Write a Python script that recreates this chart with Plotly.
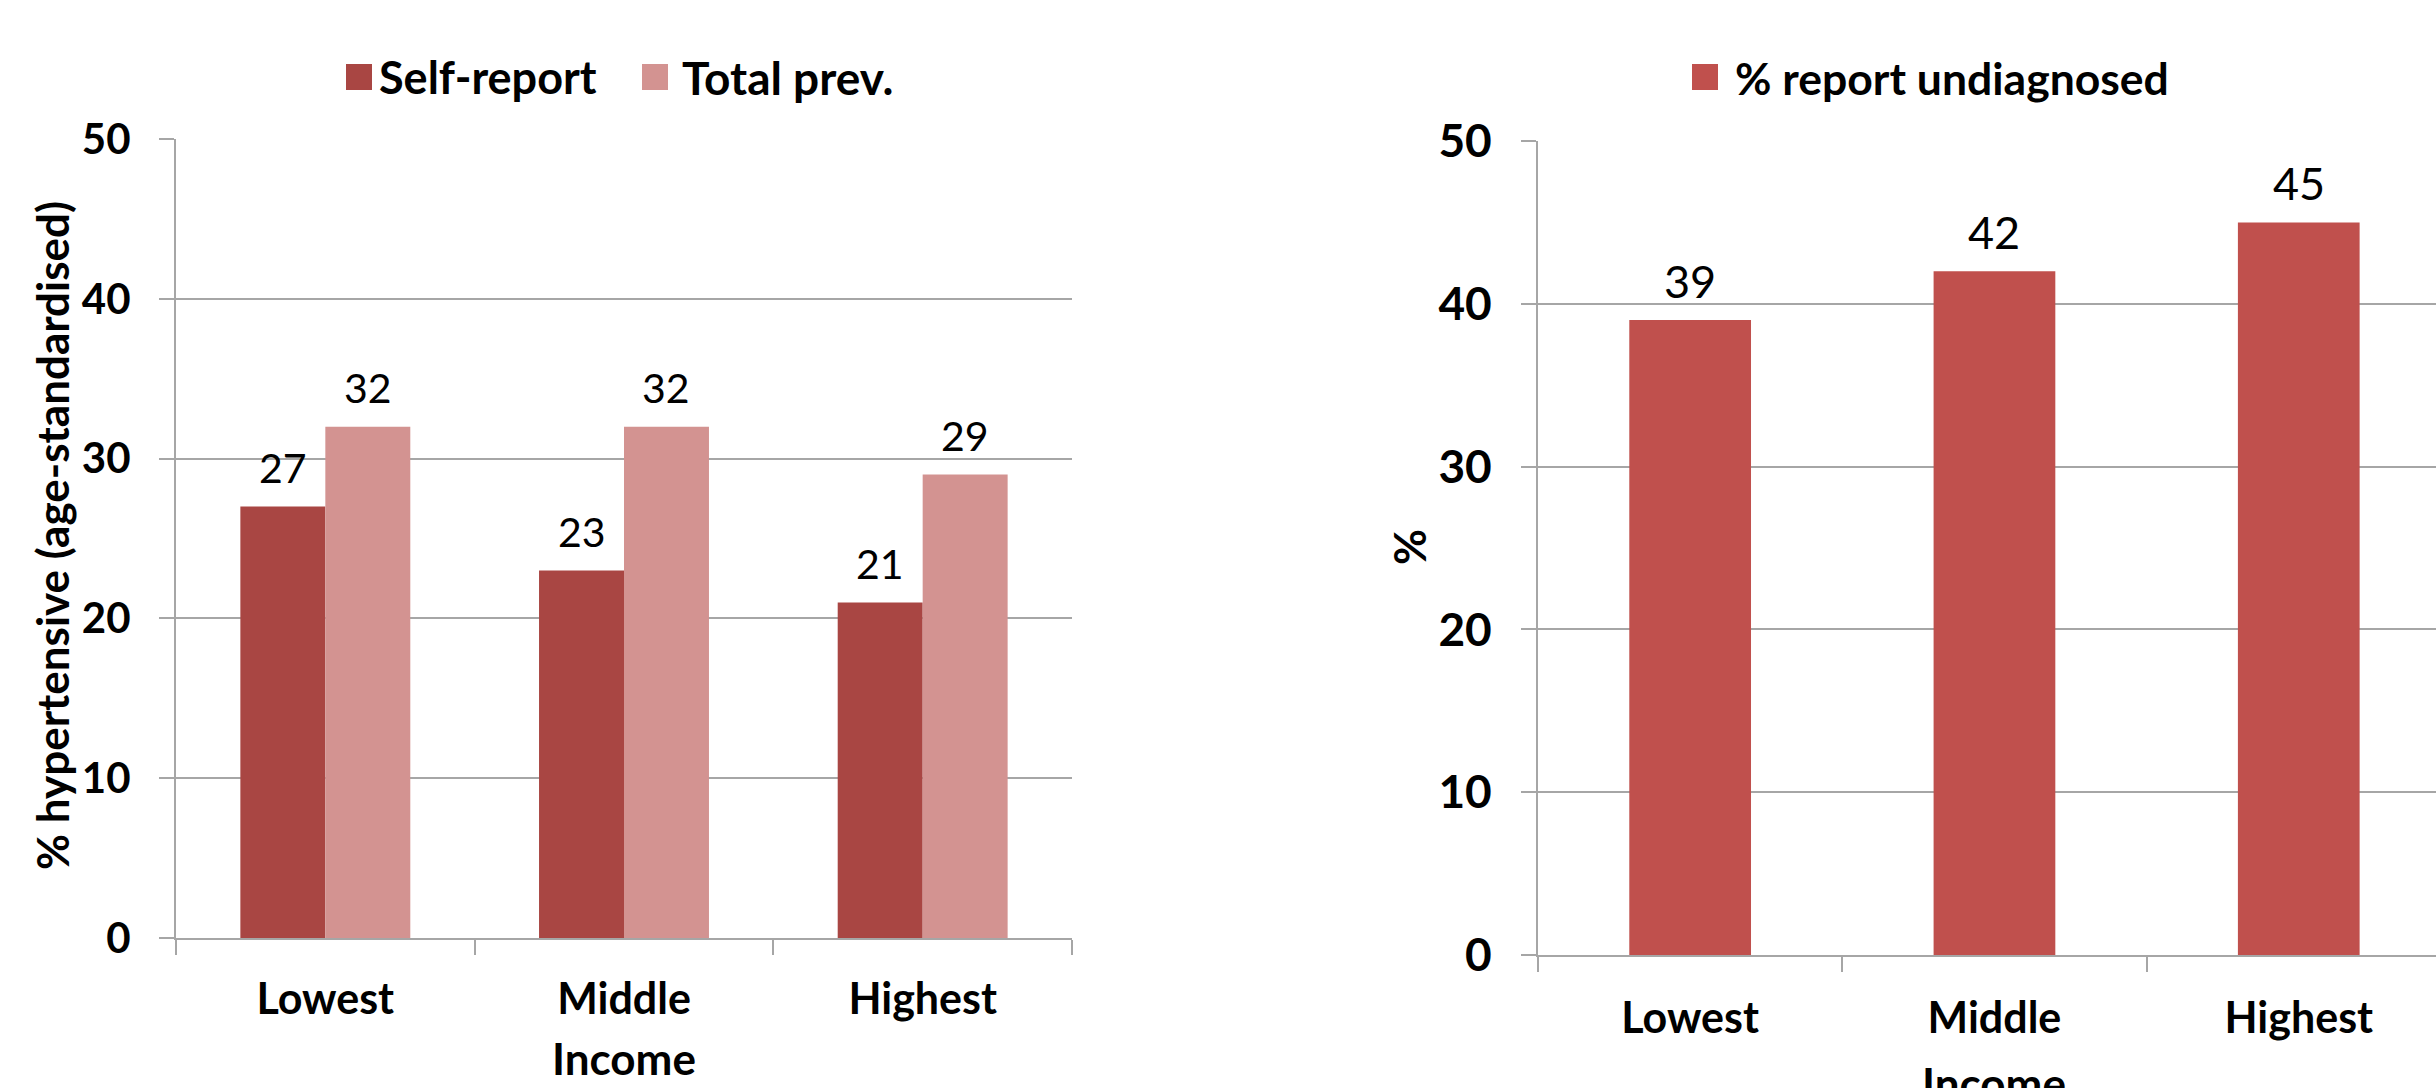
import plotly.graph_objects as go

# ---------------- data ----------------
categories = ["Lowest", "Middle", "Highest"]
self_report = [27, 23, 21]
total_prev = [32, 32, 29]
undiagnosed = [39, 42, 45]
left_series_names = ["Self-report", "Total prev."]
right_series_name = "% report undiagnosed"
y_ticks = [0, 10, 20, 30, 40, 50]
left_ytitle = "% hypertensive (age-standardised)"
right_ytitle = "%"
x_title = "Income"

# ---------------- style ----------------
W, H = 2436, 1088
FONT = "Lato"
C_DARK = "#A94643"
C_LIGHT = "#D39391"
C_RED = "#C0504D"
GRID = "#A6A6A6"
BARGAP = 0.431


def fx(p):
    return p / W


def fy(p):
    return 1 - p / H


fig = go.Figure()
fig.add_trace(go.Bar(x=categories, y=self_report, name=left_series_names[0],
                     marker=dict(color=C_DARK, line=dict(width=0)),
                     xaxis="x", yaxis="y", showlegend=False, hoverinfo="x+y+name"))
fig.add_trace(go.Bar(x=categories, y=total_prev, name=left_series_names[1],
                     marker=dict(color=C_LIGHT, line=dict(width=0)),
                     xaxis="x", yaxis="y", showlegend=False, hoverinfo="x+y+name"))
fig.add_trace(go.Bar(x=categories, y=undiagnosed, name=right_series_name,
                     marker=dict(color=C_RED, line=dict(width=0)), width=0.40,
                     xaxis="x2", yaxis="y2", showlegend=False, hoverinfo="x+y+name"))

annotations = []
shapes = []

# data labels (left, grouped)
half = (1 - BARGAP) / 4.0
for series, sign in ((self_report, -1), (total_prev, 1)):
    for i, v in enumerate(series):
        annotations.append(dict(x=i + sign * half, y=v, xref="x", yref="y",
                                text=str(v), showarrow=False, yanchor="middle",
                                yshift=39,
                                font=dict(family=FONT, size=41, color="black")))
# data labels (right)
for i, v in enumerate(undiagnosed):
    annotations.append(dict(x=i, y=v, xref="x2", yref="y2", text=str(v),
                            showarrow=False, yanchor="middle", yshift=39,
                            font=dict(family=FONT, size=45, color="black")))

# axis titles
annotations.append(dict(x=fx(52), y=fy(536), xref="paper", yref="paper",
                        text=left_ytitle, textangle=-90, showarrow=False,
                        xanchor="center", yanchor="middle",
                        font=dict(family=FONT, size=44, color="black", weight="bold")))
annotations.append(dict(x=fx(1409), y=fy(547), xref="paper", yref="paper",
                        text=right_ytitle, textangle=-90, showarrow=False,
                        xanchor="center", yanchor="middle",
                        font=dict(family=FONT, size=44, color="black", weight="bold")))
annotations.append(dict(x=fx(624), y=fy(1058), xref="paper", yref="paper",
                        text=x_title, showarrow=False, xanchor="center", yanchor="middle",
                        font=dict(family=FONT, size=44, color="black", weight="bold")))
annotations.append(dict(x=fx(1994), y=fy(1083), xref="paper", yref="paper",
                        text=x_title, showarrow=False, xanchor="center", yanchor="middle",
                        font=dict(family=FONT, size=44, color="black", weight="bold")))

# custom legends
legend_items = [
    (left_series_names[0], C_DARK, 346, 377, 45),
    (left_series_names[1], C_LIGHT, 642, 680, 46),
    (right_series_name, C_RED, 1692, 1733, 44.5),
]
for label, color, mx, tx, fs in legend_items:
    shapes.append(dict(type="rect", xref="paper", yref="paper",
                       x0=fx(mx), x1=fx(mx + 26), y0=fy(90), y1=fy(64),
                       fillcolor=color, line=dict(width=0)))
    annotations.append(dict(x=fx(tx), y=fy(77), xref="paper", yref="paper",
                            text=label, showarrow=False, xanchor="left", yanchor="middle",
                            font=dict(family=FONT, size=fs, color="black", weight="bold")))

axis_common = dict(showline=True, linecolor=GRID, linewidth=2,
                   ticks="outside", ticklen=15, tickwidth=2, tickcolor=GRID,
                   zeroline=False, fixedrange=True, automargin=False)

fig.update_layout(
    width=W, height=H,
    margin=dict(l=0, r=0, t=0, b=0, pad=0, autoexpand=False),
    paper_bgcolor="white", plot_bgcolor="white",
    barmode="group", bargap=BARGAP, bargroupgap=0,
    showlegend=False,
    font=dict(family=FONT, color="black"),
    annotations=annotations, shapes=shapes,
    xaxis=dict(domain=[fx(176), fx(1072)], anchor="y", type="category",
               range=[-0.5, 2.5], tickson="boundaries", showgrid=False,
               ticklabelstandoff=22,
               tickfont=dict(family=FONT, size=43, color="black", weight="bold"),
               **axis_common),
    yaxis=dict(domain=[fy(938), fy(139)], anchor="x", range=[0, 50],
               tickvals=y_ticks, showgrid=True, gridcolor=GRID, gridwidth=2,
               ticklabelstandoff=20,
               tickfont=dict(family=FONT, size=42, color="black", weight="bold"),
               **axis_common),
    xaxis2=dict(domain=[fx(1538), 1.0], anchor="y2", type="category",
                range=[-0.5, 2.451], tickson="boundaries", showgrid=False,
                ticklabelstandoff=24,
                tickfont=dict(family=FONT, size=43, color="black", weight="bold"),
                **axis_common),
    yaxis2=dict(domain=[fy(955), fy(141)], anchor="x2", range=[0, 50],
                tickvals=y_ticks, showgrid=True, gridcolor=GRID, gridwidth=2,
                ticklabelstandoff=20,
                tickfont=dict(family=FONT, size=46, color="black", weight="bold"),
                **axis_common),
)

fig.write_html("out.html")
